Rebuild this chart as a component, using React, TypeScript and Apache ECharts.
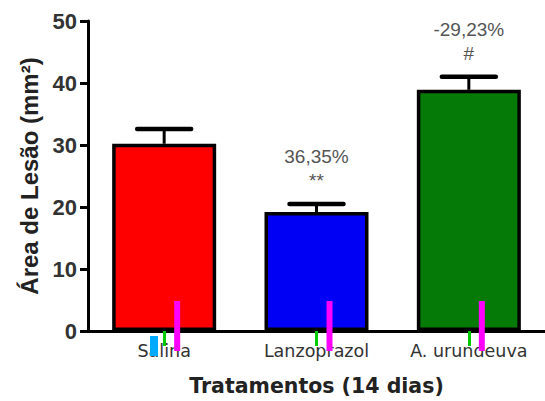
import React, { useEffect, useRef } from "react";
import * as echarts from "echarts";

const categories = ["Salina", "Lanzoprazol", "A. urundeuva"];
const means = [30.2, 19.2, 38.9];
const errorTops = [32.6, 20.5, 41.0];
const percentLabels = ["", "36,35%", "-29,23%"];
const significance = ["", "**", "#"];
const barColors = ["#ff0000", "#0000f5", "#067a06"];
const yTicks = [0, 10, 20, 30, 40, 50];

export default function App() {
  const ref = useRef<HTMLDivElement>(null);
  useEffect(() => {
    if (!ref.current) return;
    const chart = echarts.init(ref.current, undefined, { renderer: "svg" });
    const option = {
      animation: false,
      backgroundColor: "#ffffff",
      grid: { left: 88, top: 21, bottom: 69, right: -12.5 },
      xAxis: {
        type: "category",
        data: categories,
        name: "Tratamentos (14 dias)",
        nameLocation: "middle",
        nameGap: 44,
        nameTextStyle: { fontFamily: "DejaVu Sans", fontWeight: "bold", fontSize: 20.5, color: "#222" },
        axisLine: { show: true, lineStyle: { color: "#000", width: 3 } },
        axisTick: { show: true, alignWithLabel: true, interval: 0, length: 15, lineStyle: { color: "#00cc00", width: 3 } },
        axisLabel: { interval: 0, hideOverlap: false, fontFamily: "DejaVu Sans", fontSize: 17.5, color: "#333", margin: 11 },
      },
      yAxis: {
        type: "value",
        min: yTicks[0],
        max: yTicks[yTicks.length - 1],
        interval: 10,
        name: "Área de Lesão (mm²)",
        nameLocation: "middle",
        nameGap: 45,
        nameTextStyle: { fontFamily: "Liberation Sans", fontWeight: "bold", fontSize: 24, color: "#222" },
        axisLine: { show: true, lineStyle: { color: "#000", width: 3 } },
        axisTick: { show: true, length: 8, lineStyle: { color: "#000", width: 3 } },
        axisLabel: { fontFamily: "Liberation Sans", fontWeight: "bold", fontSize: 22, color: "#333", margin: 11 },
        splitLine: { show: false },
      },
      series: [
        {
          type: "bar",
          barWidth: 104,
          data: means.map((v, i) => ({
            value: v,
            itemStyle: { color: barColors[i], borderColor: "#000", borderWidth: 3.5 },
          })),
        },
        {
          type: "custom",
          z: 5,
          clip: false,
          data: categories.map((_, i) => [i, means[i], errorTops[i]]),
          renderItem: (params: any, api: any) => {
            const i = api.value(0);
            const base = api.coord([i, api.value(1)]);
            const top = api.coord([i, api.value(2)]);
            const zero = api.coord([i, 0]);
            const half = 27;
            const children: any[] = [
              { type: "line", shape: { x1: base[0], y1: base[1], x2: top[0], y2: top[1] }, style: { stroke: "#000", lineWidth: 3 } },
              { type: "line", shape: { x1: top[0] - half, y1: top[1], x2: top[0] + half, y2: top[1] }, style: { stroke: "#000", lineWidth: 4.5, lineCap: "round" } },
              { type: "rect", shape: { x: zero[0] + 10, y: zero[1] - 30, width: 6, height: 50 }, style: { fill: "#ff00ff" } },
            ];
            const pct = percentLabels[params.dataIndex];
            const sig = significance[params.dataIndex];
            if (pct) {
              children.push({
                type: "text",
                style: { text: pct, x: top[0], y: top[1] - 47, align: "center", verticalAlign: "middle", font: "19px 'Liberation Sans'", fill: "#555" },
              });
            }
            if (sig) {
              children.push({
                type: "text",
                style: { text: sig, x: top[0], y: top[1] - 23, align: "center", verticalAlign: "middle", font: "19px 'Liberation Sans'", fill: "#555" },
              });
            }
            return { type: "group", children };
          },
        },
      ],
      graphic: [
        { type: "rect", left: 150, top: 336, z: 200, shape: { width: 8, height: 20 }, style: { fill: "#00aaff" } },
      ],
    };
    chart.setOption(option as any);
    return () => chart.dispose();
  }, []);
  return <div ref={ref} style={{ width: 545, height: 401, position: "absolute", left: 0, top: 0 }} />;
}
